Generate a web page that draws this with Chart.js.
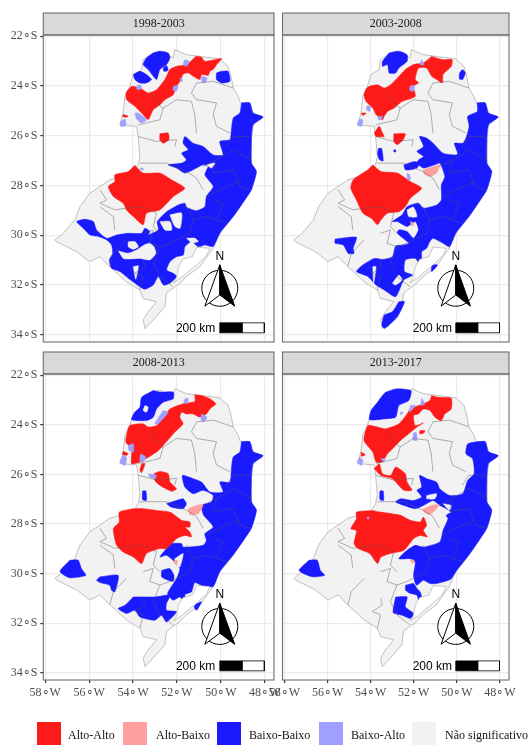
<!DOCTYPE html>
<html>
<head>
<meta charset="utf-8">
<script src="https://cdn.jsdelivr.net/npm/chart.js@4"></script>
<style>
html,body{margin:0;padding:0;background:#fff;width:528px;height:745px;overflow:hidden}
canvas{position:absolute;left:0;top:0}
.sw{position:absolute;top:722px;width:24px;height:23px}
.lb{position:absolute;top:727px;font:12px/16px "Liberation Serif",serif;color:#111;white-space:nowrap}
</style>
</head>
<body>
<canvas id="c1" width="528" height="745"></canvas>
<canvas id="c2" width="528" height="745"></canvas>
<canvas id="c3" width="528" height="745"></canvas>
<canvas id="c4" width="528" height="745"></canvas>
<div id="legend"></div>
<script>
// eixos
const lonTicks=[-58,-56,-54,-52,-50,-48];
const latTicks=[-22,-24,-26,-28,-30,-32,-34];
const periods=['1998-2003','2003-2008','2008-2013','2013-2017'];
const legendNames=['Alto-Alto','Alto-Baixo','Baixo-Baixo','Baixo-Alto','Não significativo'];
const legendColors=['#ff1a1a','#ff9f9f','#1a1aff','#9f9fff','#f2f2f2'];

// contorno dos estados (lon,lat)
const stateOutline=[[-52.10,-22.54],[-51.57,-22.74],[-50.96,-22.81],[-50.05,-22.91],[-49.67,-23.21],[-49.52,-23.68],[-49.44,-24.08],[-49.21,-24.42],[-49.11,-24.68],[-48.68,-24.68],[-48.53,-25.09],[-48.08,-25.25],[-48.53,-25.56],[-48.61,-26.16],[-48.61,-27.10],[-48.38,-27.44],[-48.61,-28.17],[-48.91,-28.58],[-49.44,-29.25],[-50.05,-29.92],[-50.35,-30.52],[-50.96,-31.26],[-51.57,-31.66],[-51.87,-31.93],[-52.48,-32.33],[-52.55,-32.87],[-53.16,-33.48],[-53.46,-33.75],[-53.54,-33.41],[-53.31,-33.07],[-52.93,-32.67],[-53.54,-32.54],[-53.69,-32.20],[-54.30,-31.87],[-55.06,-31.26],[-55.51,-30.86],[-55.97,-31.06],[-56.57,-30.66],[-57.48,-30.26],[-57.56,-30.19],[-57.18,-29.92],[-56.65,-29.38],[-56.42,-28.85],[-55.97,-28.31],[-55.51,-28.04],[-55.06,-27.77],[-53.99,-27.50],[-53.77,-27.17],[-53.69,-26.83],[-53.77,-26.03],[-53.84,-25.62],[-54.60,-25.56],[-54.45,-25.09],[-54.37,-24.42],[-54.15,-24.01],[-53.99,-23.54],[-53.61,-23.34],[-53.54,-22.94],[-53.08,-22.67],[-52.78,-22.60],[-52.17,-22.87],[-52.10,-22.54]];
const lagoon=[[-50.50,-30.52],[-51.11,-30.48],[-51.29,-30.86],[-51.72,-30.96],[-51.93,-31.26],[-52.02,-31.73],[-52.17,-31.91],[-51.79,-31.69],[-51.11,-31.19],[-50.66,-30.83],[-50.50,-30.52]];
const eastCoast=[[-49.06,-24.68],[-48.68,-24.68],[-48.53,-25.09],[-48.08,-25.25],[-48.53,-25.56],[-48.61,-26.16],[-48.61,-27.10],[-48.38,-27.44],[-48.61,-28.17],[-48.91,-28.58],[-49.44,-29.25],[-50.05,-29.92]];
const regionBorders=[
[[-53.24,-24.21],[-52.93,-24.68],[-52.63,-24.89],[-52.02,-24.55],[-51.34,-24.62],[-51.19,-25.15],[-51.11,-25.89]],
[[-52.63,-24.89],[-52.78,-25.36],[-53.77,-25.56]],
[[-51.11,-23.88],[-51.34,-24.28],[-51.11,-24.55],[-50.20,-24.68],[-50.35,-25.15],[-50.20,-25.62],[-49.59,-25.89]],
[[-51.11,-23.88],[-50.35,-23.81],[-49.44,-24.08]],
[[-53.77,-26.03],[-52.93,-26.23],[-52.02,-26.16],[-52.10,-26.43]],
[[-53.69,-27.10],[-52.48,-27.10],[-51.57,-27.44],[-51.11,-27.70],[-50.81,-28.17]],
[[-55.51,-28.17],[-55.21,-28.58],[-55.51,-28.71],[-54.83,-28.98],[-54.30,-28.91]],
[[-54.30,-28.91],[-53.54,-28.85],[-52.93,-29.11],[-53.08,-29.65],[-52.78,-29.92]],
[[-55.51,-28.85],[-54.90,-29.25],[-54.83,-29.79]],
[[-53.54,-29.92],[-53.08,-29.79],[-53.24,-30.32],[-52.78,-30.46],[-52.32,-30.32],[-51.41,-29.92],[-51.26,-29.38],[-51.57,-28.85]],
[[-54.30,-30.19],[-54.90,-30.73],[-55.06,-31.26]],
[[-53.54,-30.99],[-53.46,-31.26],[-53.92,-31.53],[-53.54,-31.66],[-53.69,-32.20]],
[[-52.78,-30.46],[-53.08,-31.13],[-52.78,-31.66],[-52.17,-32.07]],
[[-50.35,-28.58],[-49.90,-28.71],[-50.20,-29.38]],
[[-50.81,-27.23],[-50.20,-26.97],[-49.44,-26.56],[-48.61,-26.97]],
[[-49.44,-27.37],[-49.14,-28.04],[-48.68,-28.17]],
[[-50.66,-28.44],[-50.05,-28.17],[-49.14,-27.84]],
[[-51.26,-29.38],[-50.66,-29.25],[-50.20,-29.38],[-49.75,-29.52]],
[[-48.68,-26.03],[-49.44,-26.03],[-49.75,-26.43]],
[[-50.20,-26.97],[-50.35,-27.50],[-49.44,-27.37]]
];

// 1998-2003
const blue1=[
[[-53.08,-22.67],[-52.78,-22.60],[-52.40,-22.67],[-52.32,-22.87],[-52.48,-23.14],[-52.78,-23.34],[-52.93,-23.74],[-53.31,-23.34],[-53.54,-23.14],[-53.39,-22.87]],
[[-53.99,-23.54],[-53.69,-23.41],[-53.39,-23.54],[-53.16,-23.74],[-53.39,-23.88],[-53.69,-23.88],[-53.92,-23.74]],
[[-50.20,-23.48],[-49.97,-23.41],[-49.67,-23.41],[-49.59,-23.81],[-49.97,-23.88],[-50.20,-23.74]],
[[-52.63,-23.28],[-52.48,-23.18],[-52.40,-23.37],[-52.60,-23.41]],
[...eastCoast,[-50.35,-30.45],[-50.73,-30.39],[-51.03,-30.46],[-51.33,-30.25],[-51.64,-30.46],[-51.71,-30.79],[-52.02,-30.86],[-52.32,-31.06],[-52.47,-31.40],[-52.17,-31.53],[-52.02,-31.66],[-52.32,-31.93],[-52.62,-32.00],[-52.85,-31.66],[-53.08,-32.00],[-53.46,-32.17],[-53.69,-32.07],[-54.22,-31.73],[-54.60,-31.46],[-54.98,-31.33],[-55.08,-30.99],[-54.93,-30.73],[-54.98,-30.39],[-55.20,-30.19],[-55.58,-30.05],[-55.96,-29.99],[-56.27,-29.72],[-56.57,-29.45],[-56.19,-29.36],[-55.81,-29.45],[-55.66,-29.79],[-55.20,-30.12],[-54.75,-29.99],[-54.22,-29.92],[-53.61,-29.92],[-53.46,-29.72],[-53.23,-29.85],[-53.31,-29.99],[-52.85,-29.78],[-52.90,-29.45],[-52.47,-29.05],[-51.94,-28.78],[-51.64,-28.71],[-51.57,-28.87],[-51.11,-29.01],[-50.73,-28.85],[-50.66,-28.44],[-50.35,-28.04],[-50.73,-27.57],[-50.58,-27.23],[-50.81,-27.17],[-51.11,-27.30],[-51.64,-27.50],[-52.02,-27.30],[-52.40,-27.17],[-51.79,-27.10],[-51.57,-26.97],[-51.79,-26.70],[-51.49,-26.56],[-51.72,-26.30],[-51.64,-26.03],[-51.26,-26.30],[-50.81,-26.43],[-50.35,-26.77],[-49.90,-26.77],[-50.05,-26.23],[-49.59,-26.16],[-49.52,-25.76],[-49.44,-25.29],[-49.14,-25.09]]
];
const holes1=[
[[-54.22,-30.26],[-53.91,-30.26],[-53.76,-30.46],[-53.99,-30.56],[-54.22,-30.46]],
[[-54.67,-30.63],[-54.22,-30.72],[-53.84,-30.59],[-53.50,-30.39],[-53.23,-30.32],[-53.05,-30.46],[-52.96,-30.72],[-53.23,-30.99],[-53.69,-30.93],[-54.14,-30.95],[-54.44,-30.93]],
[[-53.99,-31.26],[-53.76,-31.23],[-53.88,-31.77]],
[[-52.78,-29.45],[-52.32,-29.45],[-52.24,-29.79],[-52.55,-29.79]],
[[-52.32,-29.18],[-51.79,-29.11],[-51.86,-29.72],[-52.09,-29.65],[-52.24,-29.38]],
[[-51.56,-30.12],[-51.18,-30.12],[-51.03,-30.25],[-51.33,-30.30]],
[[-50.66,-27.17],[-50.28,-27.10],[-50.43,-27.30]]
];
const red1=[
[[-51.13,-22.80],[-50.88,-22.84],[-50.73,-23.01],[-49.97,-22.90],[-50.19,-23.14],[-50.35,-23.34],[-50.50,-23.41],[-50.57,-23.57],[-50.88,-23.54],[-50.95,-23.74],[-51.26,-23.61],[-51.48,-23.48],[-51.71,-23.52],[-51.86,-23.81],[-52.02,-24.01],[-52.17,-24.35],[-52.55,-24.55],[-52.77,-24.75],[-53.08,-24.95],[-53.31,-25.35],[-53.61,-25.09],[-53.91,-24.82],[-54.29,-24.55],[-54.32,-24.28],[-54.06,-24.01],[-53.69,-24.08],[-53.31,-24.28],[-52.93,-24.15],[-52.55,-23.74],[-52.32,-23.34],[-52.02,-23.21],[-51.56,-23.14]],
[[-54.45,-25.15],[-54.22,-25.22],[-54.33,-25.26],[-54.48,-25.22]],
[[-52.78,-25.92],[-52.40,-25.89],[-52.37,-26.16],[-52.63,-26.30],[-52.78,-26.16]],
[[-53.92,-27.19],[-53.54,-27.50],[-52.78,-27.50],[-52.25,-27.77],[-51.64,-28.11],[-52.17,-28.44],[-52.32,-28.58],[-52.78,-28.98],[-53.39,-29.11],[-53.54,-29.58],[-53.99,-29.25],[-54.30,-28.98],[-54.45,-28.71],[-54.90,-28.44],[-55.13,-28.04],[-54.83,-27.84],[-54.83,-27.57],[-54.22,-27.44]]
];
const lightBlue1=[
[[-51.64,-22.94],[-51.44,-23.01],[-51.57,-23.21],[-51.72,-23.14]],
[[-50.88,-23.61],[-50.63,-23.68],[-50.73,-23.88],[-50.88,-23.81]],
[[-51.87,-23.68],[-51.75,-23.74],[-51.79,-23.85]],
[[-52.17,-24.01],[-51.95,-23.99],[-52.02,-24.21],[-52.17,-24.17]],
[[-53.81,-23.95],[-53.61,-23.99],[-53.69,-24.15],[-53.84,-24.12]],
[[-53.92,-25.09],[-53.77,-25.09],[-53.39,-25.36],[-53.61,-25.49],[-53.84,-25.33]],
[[-54.57,-25.42],[-54.37,-25.33],[-54.33,-25.60],[-54.57,-25.62]],
[[-53.69,-27.30],[-53.54,-27.30],[-53.57,-27.41]]
];
const lightRed1=[];

// 2003-2008
const blue2=[
[[-53.14,-22.67],[-52.69,-22.60],[-52.31,-22.74],[-52.31,-23.01],[-52.69,-23.28],[-52.84,-23.48],[-53.14,-23.48],[-53.22,-23.14],[-53.45,-23.21],[-53.45,-23.01]],
[[-49.88,-23.48],[-49.73,-23.34],[-49.61,-23.48],[-49.73,-23.74],[-49.88,-23.72]],
[...eastCoast,[-50.34,-30.46],[-50.64,-30.32],[-51.10,-30.12],[-51.25,-30.25],[-51.40,-30.52],[-51.63,-30.66],[-51.63,-31.26],[-51.93,-30.93],[-52.39,-30.99],[-52.43,-31.46],[-52.05,-31.60],[-52.46,-31.80],[-52.84,-32.47],[-53.37,-32.20],[-53.75,-32.00],[-54.13,-31.66],[-54.66,-31.46],[-54.36,-31.19],[-53.83,-30.93],[-53.45,-30.97],[-52.99,-30.86],[-52.84,-30.43],[-52.46,-30.39],[-52.23,-30.32],[-52.76,-29.92],[-52.69,-29.78],[-52.31,-29.85],[-52.01,-30.12],[-51.78,-29.78],[-51.93,-29.45],[-52.31,-29.65],[-52.76,-29.45],[-52.99,-29.45],[-52.54,-29.18],[-52.31,-28.85],[-51.78,-28.71],[-51.55,-28.91],[-50.94,-28.78],[-50.72,-28.58],[-50.72,-27.98],[-50.56,-27.64],[-50.79,-27.10],[-51.02,-27.17],[-51.55,-27.30],[-51.85,-27.10],[-51.78,-26.97],[-51.55,-26.83],[-51.85,-26.63],[-51.55,-26.43],[-51.73,-26.03],[-51.40,-26.10],[-51.10,-26.30],[-50.64,-26.70],[-50.03,-26.77],[-49.96,-26.70],[-50.11,-26.30],[-49.73,-26.30],[-49.58,-26.10],[-49.43,-25.62],[-49.50,-25.22],[-49.05,-25.02]],
[[-55.65,-30.15],[-54.66,-30.08],[-54.81,-30.52],[-54.77,-30.73],[-55.04,-30.73],[-55.27,-30.39],[-55.65,-30.32]],
[[-52.69,-32.67],[-52.43,-32.67],[-52.76,-33.28],[-53.14,-33.61],[-53.37,-33.75],[-53.48,-33.61],[-53.37,-33.21],[-52.99,-33.07]],
[[-51.17,-31.19],[-50.90,-31.19],[-51.17,-31.46]],
[[-52.92,-26.57],[-52.84,-26.57],[-52.84,-26.65],[-52.92,-26.65]],
[[-53.64,-26.51],[-53.49,-26.51],[-53.42,-27.01],[-53.60,-26.95],[-53.68,-26.71]],
[[-52.46,-27.17],[-52.01,-27.04],[-51.73,-27.10],[-51.85,-27.30],[-52.16,-27.37],[-52.39,-27.37]]
];
const holes2=[
[[-52.31,-28.98],[-52.01,-28.87],[-51.85,-29.25],[-52.23,-29.25]],
[[-53.90,-31.26],[-53.75,-31.26],[-53.86,-31.93]],
[[-52.99,-31.93],[-52.69,-31.60],[-52.54,-31.80],[-52.84,-32.00]]
];
const red2=[
[[-51.17,-22.81],[-50.64,-22.94],[-50.22,-22.94],[-50.26,-23.21],[-50.64,-23.54],[-50.67,-23.88],[-50.94,-23.74],[-51.17,-23.61],[-51.40,-23.28],[-51.78,-23.28],[-51.93,-23.74],[-51.78,-23.88],[-52.01,-24.01],[-51.93,-24.42],[-52.54,-24.62],[-52.92,-24.89],[-53.22,-25.02],[-53.37,-25.22],[-53.45,-25.36],[-53.75,-25.15],[-53.90,-24.89],[-54.21,-24.62],[-54.31,-24.35],[-54.13,-24.04],[-53.68,-23.95],[-53.37,-24.08],[-53.07,-23.95],[-52.61,-23.54],[-52.39,-23.34],[-52.01,-23.14],[-51.55,-23.07]],
[[-53.83,-25.89],[-53.60,-25.62],[-53.45,-25.89],[-53.37,-26.03],[-53.75,-26.03]],
[[-54.43,-25.09],[-54.21,-25.09],[-54.36,-25.19]],
[[-52.92,-25.92],[-52.39,-25.92],[-52.49,-26.16],[-52.76,-26.36],[-52.92,-26.23]],
[[-53.90,-27.17],[-53.52,-27.44],[-52.76,-27.50],[-52.16,-27.84],[-51.63,-28.11],[-52.16,-28.51],[-52.39,-28.85],[-52.69,-29.05],[-53.22,-29.11],[-53.52,-29.38],[-53.68,-29.58],[-53.98,-29.31],[-54.36,-29.11],[-54.66,-28.58],[-54.92,-28.11],[-54.81,-27.77],[-54.13,-27.37]]
];
const lightBlue2=[
[[-51.63,-22.94],[-51.52,-23.14],[-51.70,-23.14]],
[[-52.16,-23.99],[-51.98,-23.99],[-52.01,-24.21],[-52.19,-24.17]],
[[-54.16,-24.79],[-54.01,-24.82],[-54.05,-25.02],[-54.19,-24.95]],
[[-53.64,-25.22],[-53.45,-25.22],[-53.52,-25.36],[-53.64,-25.36]],
[[-54.51,-25.33],[-54.36,-25.36],[-54.43,-25.62],[-54.62,-25.56]],
[[-52.31,-27.50],[-52.19,-27.57],[-52.16,-27.77],[-52.28,-27.77]]
];
const lightRed2=[
[[-51.55,-27.37],[-51.02,-27.23],[-50.79,-27.17],[-50.94,-27.50],[-51.25,-27.64],[-51.52,-27.53]],
[[-52.16,-29.45],[-51.98,-29.52],[-52.08,-29.65]]
];

// 2008-2013
const blue3=[
[[-53.08,-22.62],[-52.78,-22.68],[-52.17,-22.68],[-52.17,-22.95],[-52.63,-23.09],[-52.93,-23.36],[-53.08,-23.69],[-53.39,-23.83],[-54.07,-23.79],[-53.92,-23.49],[-53.69,-23.29],[-53.61,-22.89]],
[...eastCoast,[-50.35,-30.52],[-50.81,-30.50],[-51.19,-30.36],[-51.34,-30.74],[-51.64,-30.85],[-51.57,-31.21],[-51.87,-30.94],[-52.17,-31.07],[-52.43,-30.81],[-52.02,-30.20],[-51.87,-29.80],[-52.10,-29.53],[-52.48,-29.26],[-52.78,-29.33],[-52.48,-28.99],[-52.32,-28.79],[-51.79,-28.79],[-51.72,-28.93],[-50.81,-28.86],[-50.66,-28.66],[-50.73,-28.39],[-50.35,-28.12],[-50.78,-27.65],[-50.88,-27.25],[-50.43,-27.11],[-50.35,-26.85],[-50.81,-26.64],[-51.26,-26.78],[-51.64,-26.51],[-51.75,-26.04],[-51.26,-26.17],[-50.88,-26.31],[-50.50,-26.71],[-49.90,-26.71],[-50.05,-26.31],[-49.59,-26.31],[-49.52,-25.77],[-49.44,-25.30],[-49.14,-25.10]],
[[-52.70,-29.87],[-52.32,-29.80],[-52.14,-30.07],[-52.17,-30.31],[-52.40,-30.27],[-52.70,-30.13]],
[[-53.99,-30.94],[-53.54,-30.94],[-53.01,-30.94],[-52.32,-30.87],[-52.48,-31.21],[-52.48,-31.48],[-52.02,-31.54],[-52.48,-31.95],[-52.70,-31.68],[-53.01,-31.88],[-53.69,-31.75],[-53.92,-31.48],[-54.30,-31.61],[-54.68,-31.41],[-54.37,-31.28]],
[[-55.51,-30.13],[-54.68,-30.07],[-54.83,-30.74],[-54.98,-30.67],[-55.06,-30.47],[-55.51,-30.36],[-55.66,-30.27]],
[[-56.88,-29.46],[-56.50,-29.46],[-56.35,-29.80],[-56.15,-30.07],[-56.88,-30.17],[-57.33,-29.91]],
[[-51.11,-31.21],[-50.88,-31.14],[-51.11,-31.48],[-51.22,-31.34]],
[[-53.57,-26.67],[-53.42,-26.67],[-53.39,-27.05],[-53.57,-27.01]],
[[-52.48,-27.18],[-52.02,-27.05],[-51.72,-26.98],[-51.57,-27.18],[-51.72,-27.38],[-52.25,-27.32]]
];
const holes3=[
[[-53.46,-23.22],[-53.31,-23.29],[-53.39,-23.49],[-53.54,-23.42]],
[[-52.10,-29.40],[-51.72,-29.19],[-51.87,-29.73],[-52.05,-29.60]]
];
const red3=[
[[-51.19,-22.79],[-50.88,-22.82],[-50.50,-22.95],[-50.23,-23.15],[-50.50,-23.36],[-50.66,-23.56],[-50.96,-23.69],[-51.26,-23.56],[-51.57,-23.56],[-51.79,-23.49],[-51.87,-23.69],[-51.72,-23.96],[-52.10,-24.30],[-52.63,-24.83],[-52.93,-25.10],[-53.69,-25.50],[-54.07,-25.57],[-54.07,-24.97],[-54.33,-24.70],[-54.30,-24.43],[-54.15,-24.03],[-53.54,-23.96],[-53.31,-24.09],[-52.93,-24.03],[-52.55,-23.62],[-52.32,-23.36],[-51.72,-23.15],[-51.19,-23.06]],
[[-54.45,-25.07],[-54.22,-25.17],[-54.30,-25.23],[-54.48,-25.21]],
[[-53.61,-25.57],[-53.46,-25.57],[-53.61,-25.93],[-53.69,-25.84]],
[[-53.05,-25.97],[-52.78,-25.88],[-52.40,-25.97],[-52.32,-26.31],[-52.02,-26.58],[-52.25,-26.68],[-52.78,-26.44],[-53.01,-26.24]],
[[-53.99,-27.38],[-53.54,-27.38],[-52.93,-27.45],[-52.32,-27.52],[-51.79,-27.85],[-51.41,-27.92],[-51.41,-28.12],[-51.64,-28.12],[-51.41,-28.32],[-51.34,-28.52],[-51.64,-28.46],[-52.02,-28.59],[-52.48,-28.99],[-52.78,-28.99],[-53.39,-29.19],[-53.61,-29.60],[-53.99,-29.33],[-54.45,-29.13],[-54.75,-28.86],[-54.90,-28.19],[-54.63,-27.92],[-54.63,-27.52]]
];
const lightBlue3=[
[[-51.64,-22.95],[-51.49,-22.93],[-51.54,-23.15],[-51.69,-23.09]],
[[-50.88,-23.56],[-50.63,-23.69],[-50.78,-23.87],[-50.91,-23.79]],
[[-52.63,-23.42],[-52.40,-23.49],[-52.86,-23.96],[-53.01,-23.96]],
[[-54.22,-24.83],[-53.99,-24.77],[-53.99,-25.10],[-54.18,-25.03]],
[[-53.66,-25.17],[-53.42,-25.30],[-53.54,-25.50],[-53.69,-25.44]],
[[-54.45,-25.23],[-54.30,-25.30],[-54.37,-25.64],[-54.60,-25.50]],
[[-53.31,-25.97],[-52.93,-26.04],[-53.01,-26.17],[-53.24,-26.11]]
];
const lightRed3=[
[[-51.49,-27.38],[-51.11,-27.25],[-50.81,-27.22],[-51.03,-27.58],[-51.41,-27.62]],
[[-52.17,-29.50],[-51.99,-29.46],[-52.02,-29.66]]
];

// 2013-2017
const blue4=[
[[-53.30,-22.68],[-52.84,-22.55],[-52.13,-22.62],[-52.23,-23.02],[-52.69,-23.22],[-52.84,-23.69],[-53.37,-23.76],[-54.05,-23.79],[-53.98,-23.42],[-53.68,-23.09],[-53.45,-22.82]],
[...eastCoast,[-50.29,-30.23],[-50.94,-30.40],[-51.25,-30.40],[-51.55,-30.27],[-51.85,-30.47],[-51.93,-30.40],[-52.01,-30.07],[-51.93,-29.53],[-52.16,-29.40],[-52.69,-29.40],[-52.31,-29.06],[-51.93,-28.86],[-51.55,-28.93],[-50.79,-28.72],[-50.64,-28.26],[-50.41,-27.79],[-50.49,-27.65],[-50.26,-27.52],[-50.49,-27.38],[-50.79,-27.25],[-51.10,-27.05],[-51.55,-27.25],[-51.93,-27.38],[-52.46,-27.25],[-52.84,-27.11],[-52.61,-26.98],[-52.01,-27.05],[-51.63,-26.91],[-51.85,-26.64],[-51.63,-26.51],[-51.73,-26.04],[-51.40,-26.17],[-50.94,-26.31],[-50.79,-26.58],[-50.34,-26.85],[-49.73,-26.78],[-49.50,-26.24],[-49.20,-25.97],[-49.27,-25.37],[-49.58,-25.17],[-49.50,-24.77]],
[[-52.38,-30.47],[-52.01,-30.40],[-51.85,-30.60],[-51.70,-30.74],[-51.58,-31.14],[-51.73,-31.28],[-51.85,-30.87],[-52.16,-30.80],[-52.38,-30.67]],
[[-52.84,-30.94],[-52.31,-30.94],[-52.39,-31.34],[-52.01,-31.61],[-52.16,-31.81],[-52.54,-31.68],[-52.95,-31.58],[-52.92,-31.28]],
[[-56.86,-29.46],[-56.48,-29.46],[-56.33,-29.87],[-56.13,-30.07],[-56.71,-30.13],[-57.32,-29.87]],
[[-53.57,-26.67],[-53.42,-26.67],[-53.40,-27.05],[-53.57,-27.01]]
];
const holes4=[
[[-51.40,-26.85],[-50.94,-26.78],[-51.02,-26.98],[-51.40,-26.98]],
[[-50.64,-27.18],[-50.26,-27.25],[-50.34,-27.45]]
];
const red4=[
[[-51.17,-22.82],[-50.87,-22.89],[-50.26,-22.93],[-50.26,-23.36],[-50.56,-23.56],[-50.72,-23.83],[-51.02,-23.69],[-51.25,-23.42],[-51.55,-23.36],[-51.78,-23.56],[-52.01,-23.62],[-51.93,-24.03],[-51.55,-23.92],[-51.85,-24.09],[-52.23,-24.36],[-52.61,-24.63],[-52.99,-24.97],[-53.22,-25.17],[-53.45,-25.50],[-53.75,-25.50],[-53.90,-25.10],[-54.31,-24.63],[-54.13,-24.03],[-53.68,-24.09],[-53.30,-24.16],[-52.69,-23.96],[-52.31,-23.56],[-52.16,-23.36],[-51.55,-23.15],[-51.25,-23.02]],
[[-51.70,-24.23],[-51.48,-24.23],[-51.55,-24.34],[-51.73,-24.36]],
[[-54.43,-25.10],[-54.25,-25.21],[-54.43,-25.27]],
[[-53.83,-25.77],[-53.60,-25.57],[-53.45,-25.97],[-53.07,-26.04],[-52.84,-25.70],[-52.39,-25.97],[-52.31,-26.31],[-52.08,-26.64],[-52.46,-26.64],[-52.99,-26.17],[-53.52,-26.04]],
[[-53.95,-27.45],[-53.52,-27.52],[-52.61,-27.65],[-52.16,-27.85],[-51.70,-27.92],[-51.55,-27.72],[-51.40,-28.05],[-51.55,-28.26],[-51.37,-28.52],[-51.70,-28.46],[-52.01,-28.59],[-52.46,-29.06],[-53.07,-29.19],[-53.52,-29.33],[-53.68,-29.60],[-54.05,-29.19],[-54.59,-28.99],[-54.77,-28.79],[-54.66,-28.26],[-54.92,-28.19],[-54.66,-27.79],[-54.66,-27.52]]
];
const lightBlue4=[
[[-51.63,-22.93],[-51.48,-23.15],[-51.67,-23.22]],
[[-52.01,-24.32],[-51.88,-24.32],[-51.85,-24.63],[-52.04,-24.60]],
[[-54.51,-25.30],[-54.36,-25.44],[-54.43,-25.64],[-54.62,-25.50]],
[[-53.52,-25.37],[-53.34,-25.37],[-53.40,-25.50]],
[[-52.61,-23.49],[-52.49,-23.49],[-52.61,-23.60]],
[[-52.16,-23.22],[-51.93,-23.22],[-52.19,-23.49]],
[[-54.16,-27.72],[-54.08,-27.72],[-54.08,-27.79],[-54.16,-27.79]]
];
const lightRed4=[
[[-51.55,-27.38],[-51.17,-27.25],[-50.82,-27.22],[-51.02,-27.45],[-51.25,-27.62],[-51.52,-27.52]],
[[-52.16,-29.46],[-51.98,-29.46],[-52.04,-29.60]]
];

// rosa dos ventos e barra de escala, em graus do mapa
const compassCenter=[-50.05,-32.13];
const arrowWhite=[[-50.05,-31.19],[-50.73,-32.85],[-50.05,-32.40],[-50.05,-31.19]];
const arrowBlack=[[-50.05,-31.19],[-49.37,-32.85],[-50.05,-32.40],[-50.05,-31.19]];
const barBlack=[[-50.05,-33.52],[-49.02,-33.52],[-49.02,-33.92],[-50.05,-33.92],[-50.05,-33.52]];
const barWhite=[[-49.02,-33.52],[-48.02,-33.52],[-48.02,-33.92],[-49.02,-33.92],[-49.02,-33.52]];
const northAt=[-50.05,-30.86];
const scaleTextAt=[-52.05,-33.74];

const RED='#ff1a1a',PINK='#ff9f9f',BLUE='#1a1aff',LBLUE='#9f9fff',GREY='#f2f2f2';
const AXIS_W=42, AXIS_H=30;

function toXY(pts){ return pts.map(p=>({x:p[0],y:p[1]})); }
function area(pts,color,border,bw,tension){
  const d=toXY(pts); d.push(d[0]);
  return {data:d,showLine:true,fill:'shape',backgroundColor:color,borderColor:border||color,borderWidth:bw==null?0.5:bw,pointRadius:0,tension:tension||0};
}
function blob(pts,color){ return area(pts,color,color,0.5,0.2); }
function line(pts,color,bw){
  return {data:toXY(pts),showLine:true,fill:false,borderColor:color,borderWidth:bw,pointRadius:0,tension:0};
}

const framePlugin={
  id:'frame',
  afterDraw(chart,args,o){
    const c=chart.ctx,a=chart.chartArea,sx=chart.scales.x,sy=chart.scales.y;
    c.save();
    c.fillStyle='#d9d9d9'; c.strokeStyle='#6e6e6e'; c.lineWidth=1.1;
    c.fillRect(a.left,a.top-22,a.width,22);
    c.strokeRect(a.left,a.top-22,a.width,22);
    c.strokeRect(a.left,a.top,a.width,a.height);
    c.fillStyle='#1a1a1a'; c.font='12px "Liberation Serif",serif'; c.textAlign='center'; c.textBaseline='middle';
    c.fillText(o.title,(a.left+a.right)/2,a.top-11);
    c.fillStyle='#000'; c.font='12px "Liberation Sans",sans-serif';
    c.fillText('N',sx.getPixelForValue(northAt[0]),sy.getPixelForValue(northAt[1]));
    c.textAlign='left';
    c.fillText('200 km',sx.getPixelForValue(scaleTextAt[0]),sy.getPixelForValue(scaleTextAt[1]));
    c.restore();
  }
};

function makePanel(id,title,box,showX,showY,blue,holes,red,lightRed,lightBlue){
  // de baixo para cima
  const layers=[area(stateOutline,GREY,'#a8a8a8',0.7)];
  blue.forEach(p=>layers.push(blob(p,BLUE)));
  holes.forEach(p=>layers.push(blob(p,GREY)));
  red.forEach(p=>layers.push(blob(p,RED)));
  lightBlue.forEach(p=>layers.push(blob(p,LBLUE)));
  lightRed.forEach(p=>layers.push(blob(p,PINK)));
  layers.push(area(lagoon,'#ffffff','#a8a8a8',0.6));
  regionBorders.forEach(p=>layers.push(line(p,'rgba(85,85,85,0.75)',0.6)));
  layers.push({data:[{x:compassCenter[0],y:compassCenter[1]}],pointRadius:18,pointBackgroundColor:'rgba(0,0,0,0)',pointBorderColor:'#000',pointBorderWidth:1,showLine:false});
  layers.push(area(arrowWhite,'#ffffff','#000',1));
  layers.push(area(arrowBlack,'#000000','#000',1));
  layers.push(area(barBlack,'#000000','#000',0.8));
  layers.push(area(barWhite,'#ffffff','#000',0.8));

  return new Chart(document.getElementById(id),{
    type:'scatter',
    data:{datasets:layers.reverse()},
    plugins:[framePlugin],
    options:{
      responsive:false,animation:false,
      layout:{padding:{left:box[0]-AXIS_W,top:box[1],right:528-box[2],bottom:745-box[3]-AXIS_H}},
      plugins:{legend:{display:false},tooltip:{enabled:false},frame:{title}},
      scales:{
        x:{
          type:'linear',min:-58.09,max:-47.58,
          afterFit(s){s.height=AXIS_H},
          afterBuildTicks(s){s.ticks=lonTicks.map(v=>({value:v}))},
          border:{display:false},
          grid:{color:'#ebebeb',lineWidth:1.2,tickColor:'#333',tickLength:3,drawTicks:showX},
          ticks:{display:showX,color:'#4d4d4d',font:{family:'"Liberation Serif",serif',size:12},padding:3,maxRotation:0,autoSkip:false,callback:v=>(-v)+'∘W'}
        },
        y:{
          type:'linear',min:-34.29,max:-21.95,
          afterFit(s){s.width=AXIS_W},
          afterBuildTicks(s){s.ticks=latTicks.map(v=>({value:v}))},
          border:{display:false},
          grid:{color:'#ebebeb',lineWidth:1.2,tickColor:'#333',tickLength:3,drawTicks:showY},
          ticks:{display:showY,color:'#4d4d4d',font:{family:'"Liberation Serif",serif',size:12},padding:3,autoSkip:false,callback:v=>(-v)+'∘S'}
        }
      }
    }
  });
}

makePanel('c1',periods[0],[43.3,35,274,342],false,true,blue1,holes1,red1,lightRed1,lightBlue1);
makePanel('c2',periods[1],[282.5,35,513.7,342],false,false,blue2,holes2,red2,lightRed2,lightBlue2);
makePanel('c3',periods[2],[43.3,374,274,680],true,true,blue3,holes3,red3,lightRed3,lightBlue3);
makePanel('c4',periods[3],[282.5,374,513.7,680],true,false,blue4,holes4,red4,lightRed4,lightBlue4);

// legenda
const swatchLeft=[37,123,217,319,412];
const labelLeft=[68,156,249,351,445];
document.getElementById('legend').innerHTML=legendNames.map((n,i)=>
  `<div class="sw" style="left:${swatchLeft[i]}px;background:${legendColors[i]}"></div><div class="lb" style="left:${labelLeft[i]}px">${n}</div>`).join('');
</script>
</body>
</html>
